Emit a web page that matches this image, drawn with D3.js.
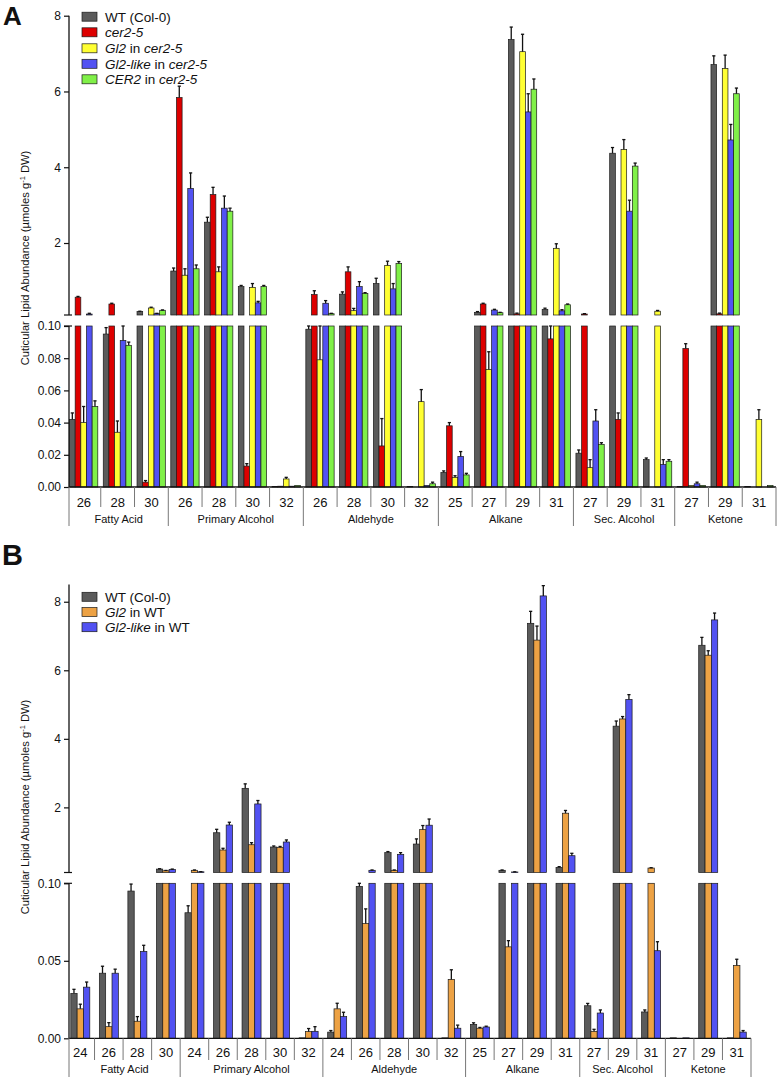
<!DOCTYPE html>
<html><head><meta charset="utf-8">
<script src="https://cdn.jsdelivr.net/npm/d3@7"></script>
<style>body{margin:0;background:#fff} svg{display:block} text{font-family:"Liberation Sans",Arial,Helvetica,sans-serif;fill:#111}</style>
</head><body><svg id="c" width="779" height="1080"></svg>
<script>
// ---------- DATA ----------
const groupsA = ["Fatty Acid","Primary Alcohol","Aldehyde","Alkane","Sec. Alcohol","Ketone"];
const chainsA = [["26","28","30"],["26","28","30","32"],["26","28","30","32"],["25","27","29","31"],["27","29","31"],["27","29","31"]];
const seriesA = ["WT (Col-0)","cer2-5","Gl2 in cer2-5","Gl2-like in cer2-5","CER2 in cer2-5"];
const wtA      = [0.042,0.095,0.19, 1.26,2.55,0.85,0.0003, 0.098,0.65,0.93,0.0003, 0.009,0.17,7.37,0.25, 0.021,4.37,0.017, 0.0003,6.71,0.0003];
const wtAErr   = [0.004,0.004,0.01, 0.08,0.13,0.03,0, 0.003,0.06,0.14,0, 0.001,0.02,0.33,0.03, 0.002,0.15,0.001, 0,0.23,0];
const cer25    = [0.57,0.39,0.003, 5.84,3.28,0.013,0.0005, 0.64,1.24,0.0255,0, 0.038,0.39,0.13,0.092, 0.126,0.042,0, 0.086,0.13,0];
const cer25Err = [0.02,0.02,0.001, 0.3,0.19,0.0015,0, 0.1,0.13,0.017,0, 0.002,0.02,0.02,0.012, 0.01,0.004,0, 0.003,0.02,0];
const gl2Cer   = [0.040,0.034,0.285, 1.15,1.24,0.83,0.005, 0.079,0.214,1.41,0.053, 0.006,0.073,7.05,1.86, 0.012,4.47,0.2, 0.001,6.61,0.042];
const gl2CerErr= [0.01,0.007,0.02, 0.17,0.13,0.1,0.001, 0.021,0.06,0.11,0.0075, 0.001,0.011,0.46,0.12, 0.005,0.26,0.02, 0,0.35,0.006];
const gl2lCer  = [0.125,0.091,0.134, 3.44,2.92,0.42,0.0005, 0.41,0.85,0.79,0.001, 0.019,0.23,5.46,0.21, 0.041,2.84,0.014, 0.002,4.72,0];
const gl2lCerErr=[0.02,0.012,0.01, 0.41,0.32,0.04,0, 0.07,0.13,0.14,0, 0.003,0.02,0.48,0.03, 0.007,0.29,0.003, 0.001,0.41,0];
const cer2Cer  = [0.050,0.088,0.224, 1.32,2.84,0.85,0.001, 0.134,0.67,1.46,0.002, 0.0075,0.16,6.06,0.37, 0.0265,4.03,0.016, 0.001,5.94,0.001];
const cer2CerErr=[0.0035,0.002,0.01, 0.1,0.08,0.03,0, 0.01,0.02,0.05,0.001, 0.001,0.01,0.27,0.02, 0.001,0.08,0.001, 0,0.15,0];

const groupsB = ["Fatty Acid","Primary Alcohol","Aldehyde","Alkane","Sec. Alcohol","Ketone"];
const chainsB = [["24","26","28","30"],["24","26","28","30","32"],["24","26","28","30","32"],["25","27","29","31"],["27","29","31"],["27","29","31"]];
const seriesB = ["WT (Col-0)","Gl2 in WT","Gl2-like in WT"];
const wtB      = [0.029,0.042,0.095,0.2, 0.081,1.26,2.556,0.844,0.0003, 0.004,0.098,0.68,0.93,0.0003, 0.009,0.164,7.37,0.25, 0.021,4.37,0.017, 0.0003,6.73,0.0003];
const wtBErr   = [0.0026,0.0045,0.0045,0.01, 0.0045,0.1,0.13,0.03,0, 0.001,0.003,0.03,0.15,0, 0.001,0.01,0.35,0.02, 0.0015,0.15,0.0013, 0,0.23,0];
const gl2WT    = [0.019,0.0075,0.011,0.15, 0.164,0.756,0.91,0.83,0.0043, 0.019,0.074,0.164,1.35,0.038, 0.0065,0.059,6.88,1.83, 0.0045,4.58,0.23, 0,6.44,0.047];
const gl2WTErr = [0.003,0.0026,0.003,0.01, 0.01,0.05,0.06,0.03,0.002, 0.0036,0.0095,0.01,0.12,0.0062, 0.0005,0.004,0.41,0.08, 0.0013,0.07,0.01, 0,0.13,0.004];
const gl2lWT   = [0.033,0.042,0.056,0.19, 0.12,1.486,2.1,0.99,0.0045, 0.014,0.164,0.63,1.48,0.0065, 0.0073,0.115,8.17,0.59, 0.0163,5.15,0.0565, 0.0003,7.47,0.004];
const gl2lWTErr= [0.0033,0.0026,0.004,0.01, 0.005,0.08,0.1,0.06,0.003, 0.0028,0.01,0.05,0.18,0.002, 0.0005,0.005,0.3,0.07, 0.002,0.14,0.0058, 0,0.2,0.001];

const upperTicks = [2,4,6,8];
const lowerTicksA = [0,0.02,0.04,0.06,0.08,0.10];
const lowerTicksB = [0,0.05,0.10];

// ---------- DRAW ----------
const svg = d3.select("#c");
const FONT = '"Liberation Sans",Arial,Helvetica,sans-serif';

function legendLabel(t, name){
  const parts = {
    "WT (Col-0)":[["WT (Col-0)",false]],
    "cer2-5":[["cer2-5",true]],
    "Gl2 in cer2-5":[["Gl2",true],[" in ",false],["cer2-5",true]],
    "Gl2-like in cer2-5":[["Gl2-like",true],[" in ",false],["cer2-5",true]],
    "CER2 in cer2-5":[["CER2",true],[" in ",false],["cer2-5",true]],
    "Gl2 in WT":[["Gl2",true],[" in WT",false]],
    "Gl2-like in WT":[["Gl2-like",true],[" in WT",false]]
  }[name];
  parts.forEach(p=>t.append("tspan").text(p[0]).attr("font-style",p[1]?"italic":"normal"));
}

function panel(cfg){
  const g = svg.append("g");
  const cats = [];
  cfg.chains.forEach((ch,gi)=>ch.forEach(c=>cats.push({g:gi,c:c,id:gi+"_"+c})));
  const x0 = d3.scaleBand().domain(cats.map(d=>d.id)).range(cfg.xRange).paddingInner(0).paddingOuter(0);
  const x1 = d3.scaleBand().domain(cfg.series.map((d,i)=>i)).range(cfg.inner);
  const yU = d3.scaleLinear().domain(cfg.upDomain).range(cfg.upRange);
  const yL = d3.scaleLinear().domain([0,0.1]).range(cfg.lowRange);
  const axX = cfg.axisX;

  cfg.values.forEach((vals,s)=>{
    vals.forEach((v,i)=>{
      const e = cfg.errors[s][i];
      const bx = x0(cats[i].id)+x1(s), bw = x1.bandwidth();
      const lv = Math.min(v,0.1);
      g.append("rect").attr("x",bx).attr("width",bw)
        .attr("y",yL(lv)).attr("height",Math.max(0,yL(0)-yL(lv)))
        .attr("fill",cfg.colors[s]).attr("stroke","#1a1a1a").attr("stroke-width",0.7);
      const cx = bx+bw/2;
      if(v>0.1){
        g.append("rect").attr("x",bx).attr("width",bw)
          .attr("y",yU(v)).attr("height",Math.max(0,yU(0.1)-yU(v)))
          .attr("fill",cfg.colors[s]).attr("stroke","#1a1a1a").attr("stroke-width",0.7);
        if(e>0){
          const ye=yU(v+e);
          g.append("line").attr("x1",cx).attr("x2",cx).attr("y1",yU(v)).attr("y2",ye).attr("stroke","#111").attr("stroke-width",1.3);
          g.append("line").attr("x1",cx-1.6).attr("x2",cx+1.6).attr("y1",ye).attr("y2",ye).attr("stroke","#111").attr("stroke-width",1.3);
        }
      } else if(e>0){
        const ye=yL(Math.min(v+e,0.1));
        g.append("line").attr("x1",cx).attr("x2",cx).attr("y1",yL(v)).attr("y2",ye).attr("stroke","#111").attr("stroke-width",1.3);
        g.append("line").attr("x1",cx-1.6).attr("x2",cx+1.6).attr("y1",ye).attr("y2",ye).attr("stroke","#111").attr("stroke-width",1.3);
      }
    });
  });

  const aU = g.append("g").attr("transform",`translate(${axX},0)`)
    .call(d3.axisLeft(yU).tickValues(upperTicks).tickSize(5).tickSizeOuter(0).tickFormat(d3.format("d")));
  const aL = g.append("g").attr("transform",`translate(${axX},0)`)
    .call(d3.axisLeft(yL).tickValues(cfg.lowTicks).tickSize(5).tickSizeOuter(0).tickFormat(d3.format(".2f")));
  [aU,aL].forEach(a=>{
    a.select(".domain").remove();
    a.selectAll(".tick line").attr("stroke","#111").attr("stroke-width",1.2);
    a.selectAll(".tick text").attr("font-size",12).attr("font-family",FONT).attr("fill","#222").attr("x",-8);
  });
  g.append("line").attr("x1",axX).attr("x2",axX).attr("y1",cfg.upTop).attr("y2",yU(0.1)).attr("stroke","#111").attr("stroke-width",1.3);
  g.append("line").attr("x1",axX).attr("x2",axX).attr("y1",yL(0.1)).attr("y2",yL(0)).attr("stroke","#111").attr("stroke-width",1.3);
  [yU(0.1), yL(0.1)].forEach(yy=>g.append("line").attr("x1",axX-5).attr("x2",axX+3).attr("y1",yy).attr("y2",yy).attr("stroke","#111").attr("stroke-width",1.2));

  const xEnd = cfg.xRange[1];
  const y0 = yL(0);
  g.append("line").attr("x1",axX).attr("x2",xEnd).attr("y1",y0).attr("y2",y0).attr("stroke","#111").attr("stroke-width",1.3);

  let idx = 0;
  cfg.chains.forEach((ch,gi)=>{
    const first = cats[idx].id;
    const gx0 = gi===0 ? axX : x0(first);
    ch.forEach((c,k)=>{
      const id = cats[idx].id;
      const bx = x0(id);
      if(k>0) g.append("line").attr("x1",bx).attr("x2",bx).attr("y1",y0).attr("y2",cfg.shortEnd).attr("stroke","#777").attr("stroke-width",1);
      g.append("text").attr("x",bx+x0.bandwidth()/2).attr("y",cfg.chainY).attr("text-anchor","middle")
        .attr("font-size",13).attr("font-family",FONT).attr("fill","#222").text(c);
      idx++;
    });
    const gx1 = x0(cats[idx-1].id)+x0.bandwidth();
    g.append("line").attr("x1",gx0).attr("x2",gx0).attr("y1",y0).attr("y2",cfg.longEnd).attr("stroke","#777").attr("stroke-width",1);
    if(gi===cfg.chains.length-1) g.append("line").attr("x1",gx1).attr("x2",gx1).attr("y1",y0).attr("y2",cfg.longEnd).attr("stroke","#777").attr("stroke-width",1);
    g.append("text").attr("x",(gx0+gx1)/2).attr("y",cfg.groupY).attr("text-anchor","middle")
      .attr("font-size",11).attr("font-family",FONT).attr("fill","#222").text(cfg.groups[gi]);
  });

  const yt = g.append("text").attr("transform",`translate(${cfg.titleX},${cfg.titleY}) rotate(-90)`)
    .attr("text-anchor","middle").attr("font-size",11.2).attr("font-family",FONT).attr("fill","#222");
  yt.append("tspan").text("Cuticular Lipid Abundance (µmoles g");
  yt.append("tspan").text("-1").attr("font-size",7.5).attr("dy",-4);
  yt.append("tspan").text(" DW)").attr("dy",4);

  cfg.series.forEach((nm,s)=>{
    const cy = cfg.legY[s];
    g.append("rect").attr("x",82).attr("y",cy-4.5).attr("width",15).attr("height",9)
      .attr("fill",cfg.colors[s]).attr("stroke","#1a1a1a").attr("stroke-width",0.7);
    const t = g.append("text").attr("x",105).attr("y",cy+4.8).attr("font-size",13.5).attr("font-family",FONT).attr("fill","#111");
    legendLabel(t,nm);
  });

  g.append("text").attr("x",cfg.letterX).attr("y",cfg.letterY).attr("font-size",cfg.letterSize)
    .attr("font-weight","bold").attr("font-family",FONT).attr("fill","#000").text(cfg.letter);
}

panel({
  groups:groupsA, chains:chainsA, series:seriesA,
  colors:["#5b5b5b","#dd0000","#ffff33","#5252f2","#80f048"],
  values:[wtA,cer25,gl2Cer,gl2lCer,cer2Cer],
  errors:[wtAErr,cer25Err,gl2CerErr,gl2lCerErr,cer2CerErr],
  xRange:[67,776], inner:[2.5,30.8], axisX:69,
  upDomain:[0.1,8], upRange:[315,15.7], upTop:15.7,
  lowRange:[487,326], lowTicks:lowerTicksA,
  shortEnd:507, longEnd:526, chainY:506.5, groupY:523,
  titleX:29, titleY:258, legY:[16.7,32.3,48.3,63.8,79.3],
  letter:"A", letterX:3, letterY:25, letterSize:26
});
panel({
  groups:groupsB, chains:chainsB, series:seriesB,
  colors:["#5b5b5b","#eda244","#5252f2"],
  values:[wtB,gl2WT,gl2lWT],
  errors:[wtBErr,gl2WTErr,gl2lWTErr],
  xRange:[66,751], inner:[4.8,23.8], axisX:69,
  upDomain:[0.1,8.5], upRange:[872.5,584.6], upTop:584.6,
  lowRange:[1038.3,883.3], lowTicks:lowerTicksB,
  shortEnd:1060, longEnd:1077, chainY:1056.5, groupY:1073,
  titleX:29, titleY:807, legY:[596.8,612,627.2],
  letter:"B", letterX:2, letterY:565, letterSize:29
});
</script>
</body></html>
